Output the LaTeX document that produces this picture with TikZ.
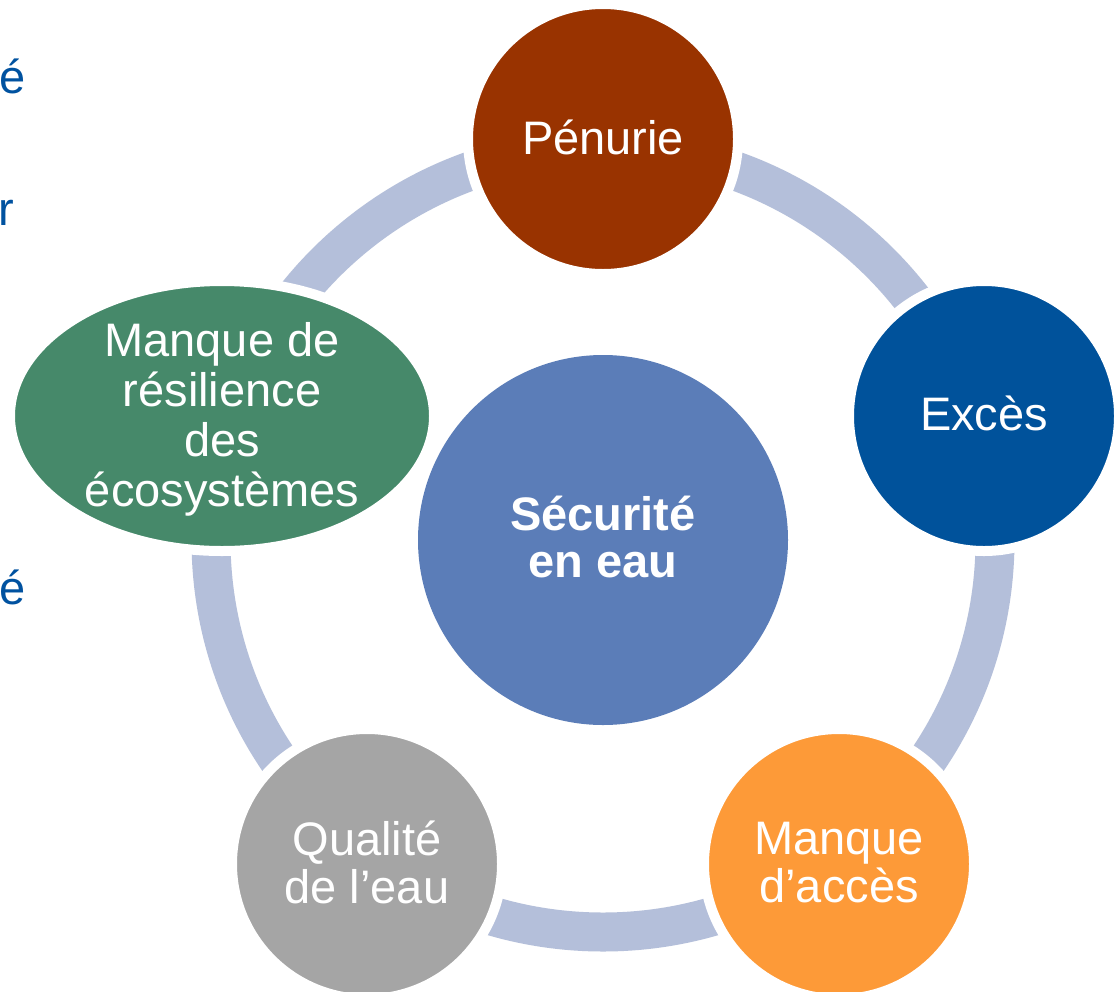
\documentclass[tikz,border=0pt]{standalone}
\usepackage{fontspec}
\setmainfont{Liberation Sans}
\usetikzlibrary{shapes.geometric}
\definecolor{cPen}{RGB}{153,51,0}
\definecolor{cExc}{RGB}{0,82,155}
\definecolor{cCtr}{RGB}{91,125,184}
\definecolor{cAcc}{RGB}{253,154,56}
\definecolor{cQua}{RGB}{165,165,165}
\definecolor{cEco}{RGB}{70,137,106}
\definecolor{cRing}{RGB}{180,191,218}
\definecolor{cSide}{RGB}{0,82,160}
\tikzset{
  ringline/.style={draw=cRing, line width=39pt},
  bubble/.style={circle, draw=white, line width=10pt, minimum size=270pt, inner sep=0pt, outer sep=0pt},
  lbl/.style={text=white, align=center, inner sep=0pt, font=\fontsize{47}{48}\selectfont},
  sidetxt/.style={text=cSide, anchor=base west, inner sep=0pt, font=\fontsize{47}{50}\selectfont}
}
\begin{document}
\begin{tikzpicture}[x=1pt,y=-1pt]
\useasboundingbox (0,0) rectangle (1118,991);
\clip (0,0) rectangle (1118,991);
\fill[white] (0,0) rectangle (1118,991);
\coordinate (ctr) at (603,540);
% cycle ring
\draw[ringline] (ctr) circle[radius=392pt];
% side text fragments
\node[sidetxt] (s1) at (-1,93) {é};
\node[sidetxt] (s2) at (-2,225) {r};
\node[sidetxt] (s3) at (-1,604) {é};
% outer nodes
\node[bubble, fill=cPen] (pen) at (603,139) {};
\node[lbl] (penT) at (603,137) {Pénurie};
\node[bubble, fill=cExc] (exc) at (984,416) {};
\node[lbl] (excT) at (984,413) {Excès};
\node[bubble, fill=cAcc] (acc) at (839,864) {};
\node[lbl] (accT) at (839,863) {Manque\\d’accès};
\node[bubble, fill=cQua] (qua) at (367,864) {};
\node[lbl] (quaT) at (367,862) {Qualité\\de l’eau};
\node[ellipse, draw=white, line width=10pt, fill=cEco, minimum width=424pt, minimum height=270pt, inner sep=0pt] (eco) at (222,416) {};
\node[lbl, font=\fontsize{47}{50}\selectfont] (ecoT) at (222,419) {Manque de\\résilience\\des\\écosystèmes};
% centre
\node[circle, fill=cCtr, minimum size=370pt, inner sep=0pt] (sec) at (603,540) {};
\node[lbl, font=\fontsize{47}{47}\selectfont\bfseries] (secT) at (603,537) {Sécurité\\en eau};
\end{tikzpicture}
\end{document}
